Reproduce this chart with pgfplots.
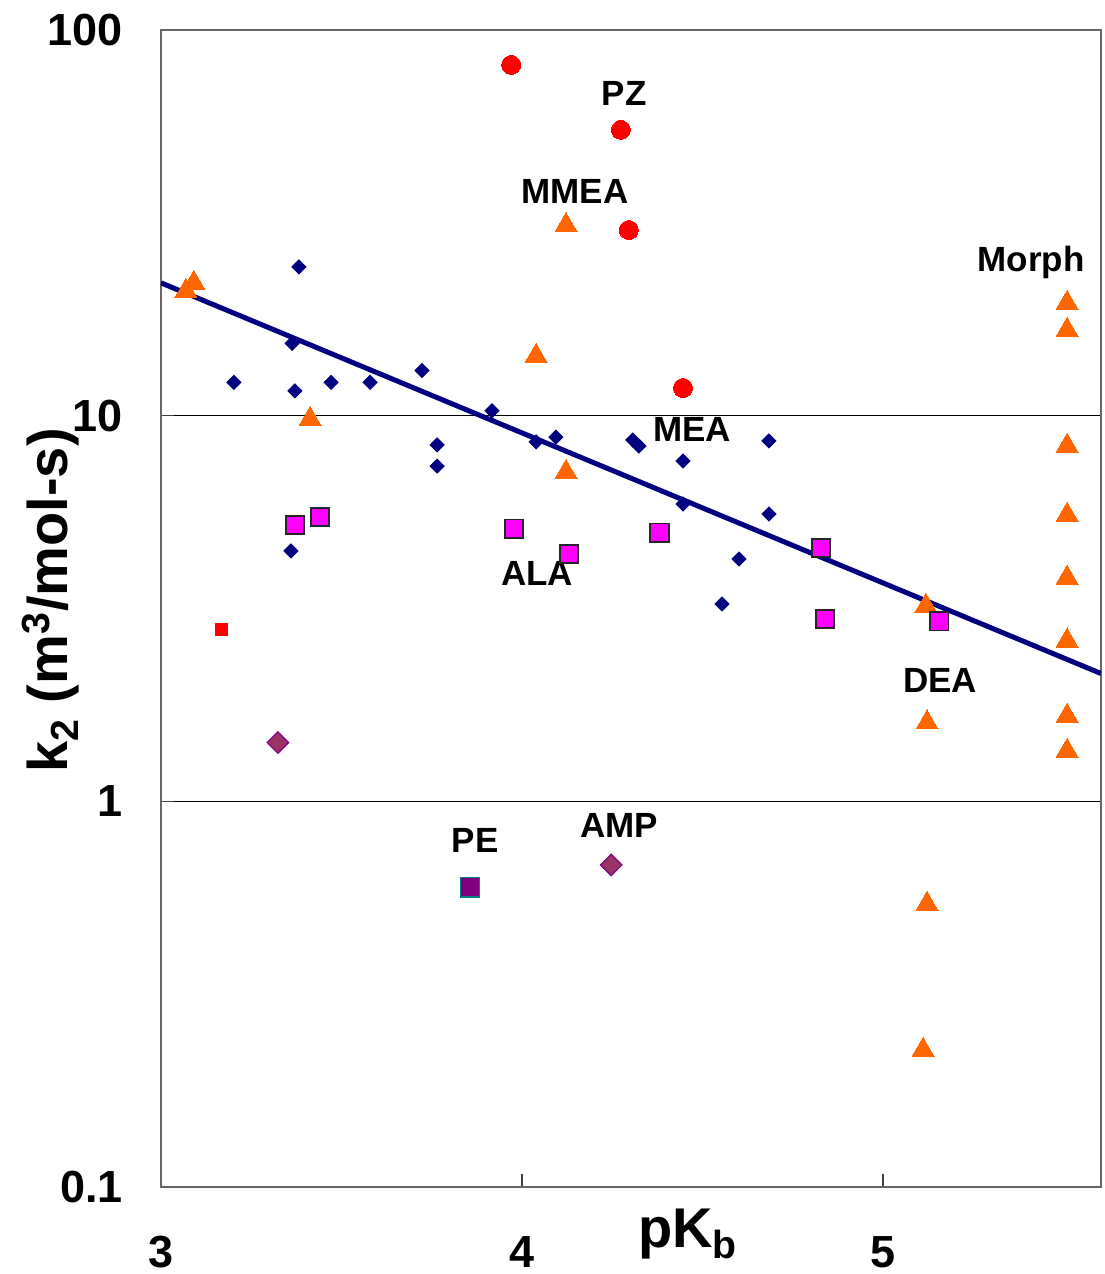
\documentclass[border=0pt]{standalone}
\usepackage{pgfplots}
\pgfplotsset{compat=1.18}
\usepackage{fontspec}
\setmainfont{Liberation Sans}

\definecolor{navyline}{HTML}{000080}
\definecolor{amineorange}{HTML}{FF6600}
\definecolor{aminered}{HTML}{FF0000}
\definecolor{aminemagenta}{HTML}{FF00FF}
\definecolor{plum}{HTML}{993366}
\definecolor{purpleedge}{HTML}{800080}
\definecolor{tealedge}{HTML}{008080}

\begin{document}
\begin{tikzpicture}
\useasboundingbox (-80.5pt,-43.5pt) rectangle (471.5pt,593.5pt);
\begin{axis}[
  at={(0,0)}, anchor=south west,
  scale only axis, width=470pt, height=578.5pt,
  xmin=3, xmax=5.604,
  ymode=log, ymin=0.1, ymax=100,
  xtick={3,4,5},
  ytick={0.1,1,10,100}, yticklabels={0.1,1,10,100},
  yminorticks=false,
  tick pos=left,
  tick align=inside, major tick length=6.5pt,
  tick style={black!75, line width=0.75pt},
  ymajorgrids, grid style={black, line width=0.5pt},
  axis line style={black!60, line width=1pt},
  /pgf/number format/assume math mode=true,
  ticklabel style={font=\bfseries\fontsize{22.5}{24}\selectfont, inner sep=0pt},
  xticklabel style={anchor=base, yshift=-40pt},
  yticklabel style={anchor=east, xshift=-19pt},
  xlabel={pK\textsubscript{b}},
  ylabel={k\textsubscript{2} (m\textsuperscript{3}/mol-s)},
  label style={font=\bfseries\fontsize{28}{30}\selectfont, inner sep=0pt},
  xlabel style={at={(axis description cs:0.5606,0)}, anchor=base, yshift=-30pt},
  ylabel style={at={(axis description cs:0,0.507)}, anchor=base, yshift=46.5pt},
]

% correlation line
\addplot[navyline, line width=2.5pt, no marks] coordinates {(3,22.1) (5.604,2.145)};

% primary and secondary amines
\addplot[navyline, only marks, mark=square*, mark size=2.5pt, mark options={rotate=45, fill=navyline, draw=navyline}]
coordinates {
 (3.382,24.3) (3.363,15.4) (3.202,12.2) (3.371,11.6) (3.471,12.2)
 (3.579,12.2) (3.723,13.1) (3.765,8.4) (3.765,7.4) (3.917,10.3)
 (4.039,8.55) (4.094,8.8) (4.307,8.65) (4.324,8.34) (4.446,7.63)
 (4.684,8.6) (4.446,5.9) (4.684,5.56) (4.601,4.25) (4.554,3.25)
 (3.360,4.46)
};

% alkanolamines
\addplot[amineorange, only marks, mark=triangle*, mark size=6.35pt, mark options={fill=amineorange, draw=amineorange, line width=0pt}]
coordinates {
 (3.069,21.05) (3.091,22.08) (3.413,9.80) (4.122,31.2) (4.039,14.28)
 (4.122,7.14) (5.119,3.21) (5.122,1.60) (5.122,0.542) (5.111,0.2266)
 (5.510,19.6) (5.510,16.68) (5.510,8.35) (5.510,5.53) (5.510,3.80)
 (5.510,2.61) (5.510,1.665) (5.510,1.351)
};

% cyclic diamines
\addplot[aminered, only marks, mark=*, mark size=4.75pt, mark options={fill=aminered, draw=aminered, line width=0pt}]
coordinates {(3.970,81.2) (4.274,55.1) (4.296,30.3) (4.446,11.8)};

% amino acid salts
\addplot[black, only marks, mark=square*, mark size=4.6pt, mark options={fill=aminemagenta, draw=black!85, line width=0.9pt}]
coordinates {
 (3.371,5.21) (3.440,5.46) (3.978,5.09) (4.130,4.38)
 (4.381,4.97) (4.828,4.54) (4.839,2.97) (5.156,2.93)
};

% single compounds
\addplot[aminered, only marks, mark=square*, mark size=3pt, mark options={fill=aminered, draw=aminered, line width=0pt}]
coordinates {(3.168,2.79)};
\addplot[purpleedge, only marks, mark=square*, mark size=3.8pt, mark options={rotate=45, fill=plum, draw=purpleedge, line width=0.6pt}]
coordinates {(3.324,1.42) (4.247,0.684)};
\addplot[tealedge, only marks, mark=square*, mark size=4.8pt, mark options={fill=purpleedge, draw=tealedge, line width=0.8pt}]
coordinates {(3.856,0.599)};

% compound names
\begin{scope}[every node/.style={font=\bfseries\fontsize{17.5}{18}\selectfont, anchor=base, inner sep=0pt}]
\node at (axis cs:4.283,63.9) {PZ};
\node at (axis cs:4.147,35.6) {MMEA};
\node at (axis cs:5.410,23.6) {Morph};
\node at (axis cs:4.471,8.55) {MEA};
\node at (axis cs:4.042,3.62) {ALA};
\node at (axis cs:5.158,1.91) {DEA};
\node at (axis cs:3.870,0.739) {PE};
\node at (axis cs:4.269,0.804) {AMP};
\end{scope}
\end{axis}
\end{tikzpicture}
\end{document}
